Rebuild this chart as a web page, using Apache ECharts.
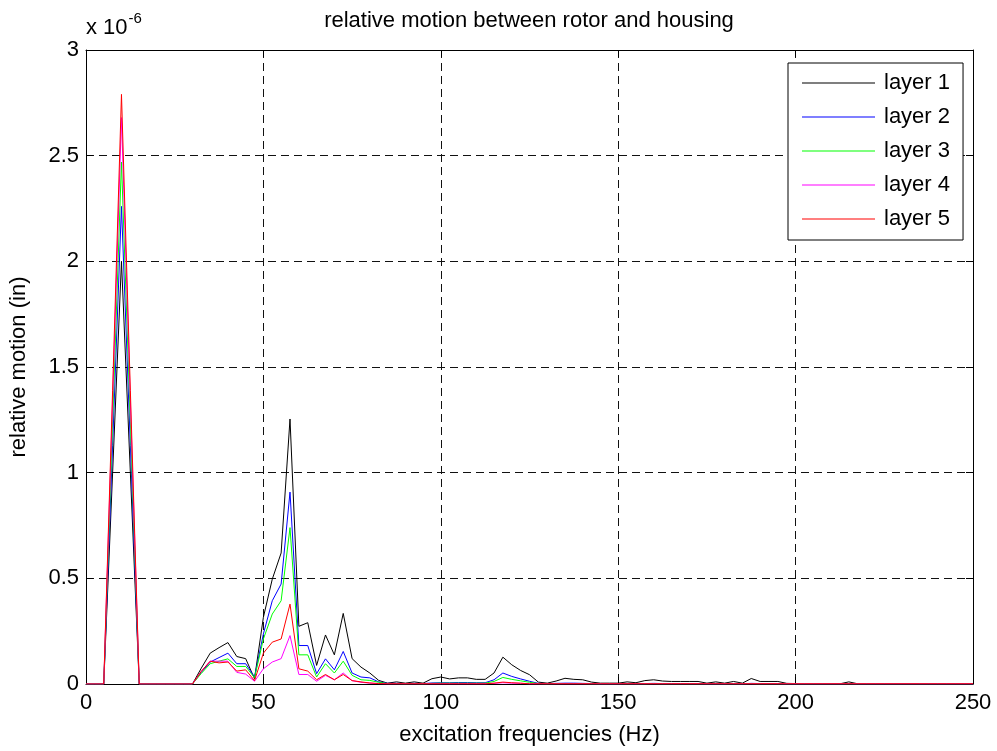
<!DOCTYPE html>
<html>
<head>
<meta charset="utf-8">
<script src="https://cdn.jsdelivr.net/npm/echarts@6/dist/echarts.min.js"></script>
<style>
  html, body { margin: 0; padding: 0; background: #fff; }
  #chart { width: 997px; height: 751px; }
</style>
</head>
<body>
<div id="chart"></div>
<script>
// excitation frequencies (Hz), one sample every 2.5 Hz
const freqs = [
  0, 2.5, 5, 7.5, 10, 12.5, 15, 17.5, 20, 22.5,
  25, 27.5, 30, 32.5, 35, 37.5, 40, 42.5, 45, 47.5,
  50, 52.5, 55, 57.5, 60, 62.5, 65, 67.5, 70, 72.5,
  75, 77.5, 80, 82.5, 85, 87.5, 90, 92.5, 95, 97.5,
  100, 102.5, 105, 107.5, 110, 112.5, 115, 117.5, 120, 122.5,
  125, 127.5, 130, 132.5, 135, 137.5, 140, 142.5, 145, 147.5,
  150, 152.5, 155, 157.5, 160, 162.5, 165, 167.5, 170, 172.5,
  175, 177.5, 180, 182.5, 185, 187.5, 190, 192.5, 195, 197.5,
  200, 202.5, 205, 207.5, 210, 212.5, 215, 217.5, 220, 222.5,
  225, 227.5, 230, 232.5, 235, 237.5, 240, 242.5, 245, 247.5, 250
];

// relative motion, in units of 1e-6 in
const layer1 = [
  0, 0, 0, 1.0, 2.0, 1.0, 0, 0, 0, 0,
  0, 0, 0, 0.075, 0.146, 0.172, 0.196, 0.13, 0.12, 0.025,
  0.316, 0.496, 0.62, 1.254, 0.273, 0.29, 0.088, 0.232, 0.138, 0.334,
  0.12, 0.08, 0.052, 0.017, 0.004, 0.01, 0.004, 0.01, 0.004, 0.025,
  0.033, 0.024, 0.029, 0.029, 0.022, 0.022, 0.052, 0.127, 0.091, 0.064,
  0.044, 0.009, 0.004, 0.014, 0.027, 0.022, 0.02, 0.009, 0.004, 0.004,
  0.004, 0.01, 0.006, 0.016, 0.02, 0.014, 0.012, 0.012, 0.012, 0.012,
  0.004, 0.01, 0.004, 0.012, 0.004, 0.026, 0.012, 0.012, 0.012, 0.003,
  0.002, 0.001, 0.001, 0.001, 0.001, 0.001, 0.01, 0.001, 0.001, 0.001,
  0.001, 0.001, 0.001, 0.001, 0.001, 0.001, 0.001, 0.001, 0.001, 0.001, 0.001
];
const layer2 = [
  0, 0, 0, 1.13, 2.26, 1.13, 0, 0, 0, 0,
  0, 0, 0, 0.055, 0.104, 0.125, 0.146, 0.096, 0.096, 0.033,
  0.237, 0.394, 0.473, 0.908, 0.182, 0.182, 0.049, 0.119, 0.067, 0.154,
  0.052, 0.033, 0.029, 0.01, 0.003, 0.003, 0.002, 0.003, 0.002, 0.005,
  0.006, 0.006, 0.007, 0.007, 0.006, 0.006, 0.02, 0.052, 0.036, 0.024,
  0.013, 0.003, 0.002, 0.003, 0.004, 0.004, 0.003, 0.002, 0.001, 0.001,
  0.001, 0.002, 0.001, 0.002, 0.003, 0.002, 0.002, 0.002, 0.002, 0.002,
  0.001, 0.001, 0.001, 0.002, 0.001, 0.003, 0.002, 0.002, 0.002, 0.001,
  0.001, 0.001, 0.001, 0.001, 0.001, 0.001, 0.002, 0.001, 0.001, 0.001,
  0.001, 0.001, 0.001, 0.001, 0.001, 0.001, 0.001, 0.001, 0.001, 0.001, 0.001
];
const layer3 = [
  0, 0, 0, 1.24, 2.47, 1.24, 0, 0, 0, 0,
  0, 0, 0, 0.05, 0.096, 0.108, 0.119, 0.083, 0.083, 0.03,
  0.213, 0.331, 0.394, 0.74, 0.138, 0.138, 0.033, 0.096, 0.052, 0.108,
  0.041, 0.02, 0.017, 0.008, 0.002, 0.002, 0.001, 0.002, 0.001, 0.003,
  0.004, 0.004, 0.004, 0.004, 0.004, 0.004, 0.012, 0.031, 0.022, 0.015,
  0.008, 0.002, 0.001, 0.002, 0.002, 0.002, 0.002, 0.001, 0.001, 0.001,
  0.001, 0.001, 0.001, 0.001, 0.002, 0.001, 0.001, 0.001, 0.001, 0.001,
  0.001, 0.001, 0.001, 0.001, 0.001, 0.002, 0.001, 0.001, 0.001, 0.001,
  0.001, 0.001, 0.001, 0.001, 0.001, 0.001, 0.001, 0.001, 0.001, 0.001,
  0.001, 0.001, 0.001, 0.001, 0.001, 0.001, 0.001, 0.001, 0.001, 0.001, 0.001
];
const layer4 = [
  0, 0, 0, 1.34, 2.68, 1.34, 0, 0, 0, 0,
  0, 0, 0, 0.06, 0.108, 0.108, 0.108, 0.055, 0.047, 0.013,
  0.072, 0.104, 0.12, 0.229, 0.045, 0.045, 0.013, 0.041, 0.02, 0.052,
  0.016, 0.008, 0.004, 0.002, 0.001, 0.001, 0.001, 0.001, 0.001, 0.001,
  0.001, 0.001, 0.001, 0.001, 0.001, 0.001, 0.003, 0.006, 0.004, 0.003,
  0.001, 0.001, 0.001, 0.001, 0.001, 0.001, 0.001, 0.001, 0.001, 0.001,
  0.001, 0.001, 0.001, 0.001, 0.001, 0.001, 0.001, 0.001, 0.001, 0.001,
  0.001, 0.001, 0.001, 0.001, 0.001, 0.001, 0.001, 0.001, 0.001, 0.001,
  0.001, 0.001, 0.001, 0.001, 0.001, 0.001, 0.001, 0.001, 0.001, 0.001,
  0.001, 0.001, 0.001, 0.001, 0.001, 0.001, 0.001, 0.001, 0.001, 0.001, 0.001
];
const layer5 = [
  0, 0, 0, 1.39, 2.79, 1.39, 0, 0, 0, 0,
  0, 0, 0, 0.06, 0.108, 0.1, 0.104, 0.061, 0.067, 0.016,
  0.146, 0.198, 0.213, 0.378, 0.072, 0.061, 0.02, 0.045, 0.02, 0.045,
  0.016, 0.01, 0.005, 0.002, 0.001, 0.001, 0.001, 0.001, 0.001, 0.001,
  0.001, 0.001, 0.001, 0.001, 0.001, 0.001, 0.004, 0.009, 0.006, 0.004,
  0.001, 0.001, 0.001, 0.001, 0.001, 0.001, 0.001, 0.001, 0.001, 0.001,
  0.001, 0.001, 0.001, 0.001, 0.001, 0.001, 0.001, 0.001, 0.001, 0.001,
  0.001, 0.001, 0.001, 0.001, 0.001, 0.001, 0.001, 0.001, 0.001, 0.001,
  0.001, 0.001, 0.001, 0.001, 0.001, 0.001, 0.001, 0.001, 0.001, 0.001,
  0.001, 0.001, 0.001, 0.001, 0.001, 0.001, 0.001, 0.001, 0.001, 0.001, 0.001
];

const layerNames = ['layer 1', 'layer 2', 'layer 3', 'layer 4', 'layer 5'];
const layerData = [layer1, layer2, layer3, layer4, layer5];
const layerColors = ['#000000', '#0000ff', '#00ff00', '#ff00ff', '#ff0000'];

const FONT = 'Liberation Sans, Arial, Helvetica, sans-serif';
const FS = 22;

const chart = echarts.init(document.getElementById('chart'), null, { renderer: 'canvas' });

const gridLine = { show: true, lineStyle: { color: '#111', type: [8, 5], width: 1 } };
const frameAxis = {
  axisLine: { show: true, onZero: false, lineStyle: { color: '#000', width: 1 } },
  axisTick: { show: true, inside: true, length: 7, lineStyle: { color: '#000' } },
};

chart.setOption({
  backgroundColor: '#fff',
  animation: false,
  textStyle: { fontFamily: FONT },
  title: {
    text: 'relative motion between rotor and housing',
    left: 529,
    top: 10,
    padding: 0,
    textAlign: 'center',
    textStyle: { fontFamily: FONT, fontSize: FS, fontWeight: 'normal', color: '#000' }
  },
  graphic: [{
    type: 'text',
    left: 86,
    top: 11,
    style: {
      text: '{b|x 10}{s|-6}',
      rich: {
        b: { fontFamily: FONT, fontSize: FS, fill: '#000', padding: [9, 0, 0, 0] },
        s: { fontFamily: FONT, fontSize: 15, fill: '#000', padding: [0, 0, 9, 1] }
      }
    }
  }],
  legend: {
    orient: 'vertical',
    left: 788,
    top: 63,
    padding: [9, 13, 10, 14],
    itemGap: 12,
    itemWidth: 73,
    itemHeight: 1,
    icon: 'rect',
    borderColor: '#000',
    borderWidth: 1,
    backgroundColor: '#fff',
    data: layerNames,
    textStyle: { fontFamily: FONT, fontSize: FS, color: '#000', padding: [0, 0, 0, 4] }
  },
  grid: { left: 86, right: 24, top: 50, bottom: 64, containLabel: false },
  xAxis: [{
    type: 'value',
    min: 0, max: 250, interval: 50,
    position: 'bottom',
    name: 'excitation frequencies (Hz)',
    nameLocation: 'middle',
    nameGap: 40,
    nameTextStyle: { fontFamily: FONT, fontSize: FS, color: '#000' },
    axisLabel: { fontFamily: FONT, fontSize: FS, color: '#000', margin: 8 },
    splitLine: gridLine,
    ...frameAxis
  }, {
    type: 'value',
    min: 0, max: 250, interval: 50,
    position: 'top',
    axisLabel: { show: false },
    splitLine: { show: false },
    ...frameAxis
  }],
  yAxis: [{
    type: 'value',
    min: 0, max: 3, interval: 0.5,
    position: 'left',
    name: 'relative motion (in)',
    nameLocation: 'middle',
    nameGap: 56,
    nameTextStyle: { fontFamily: FONT, fontSize: FS, color: '#000' },
    axisLabel: { fontFamily: FONT, fontSize: FS, color: '#000', margin: 7 },
    splitLine: gridLine,
    ...frameAxis
  }, {
    type: 'value',
    min: 0, max: 3, interval: 0.5,
    position: 'right',
    axisLabel: { show: false },
    splitLine: { show: false },
    ...frameAxis
  }],
  series: layerNames.map((name, i) => ({
    name: name,
    type: 'line',
    xAxisIndex: 0,
    yAxisIndex: 0,
    data: freqs.map((f, j) => [f, layerData[i][j]]),
    showSymbol: false,
    symbol: 'none',
    color: layerColors[i],
    lineStyle: { width: 1, color: layerColors[i] },
    z: 2 + i
  }))
});
</script>
</body>
</html>
